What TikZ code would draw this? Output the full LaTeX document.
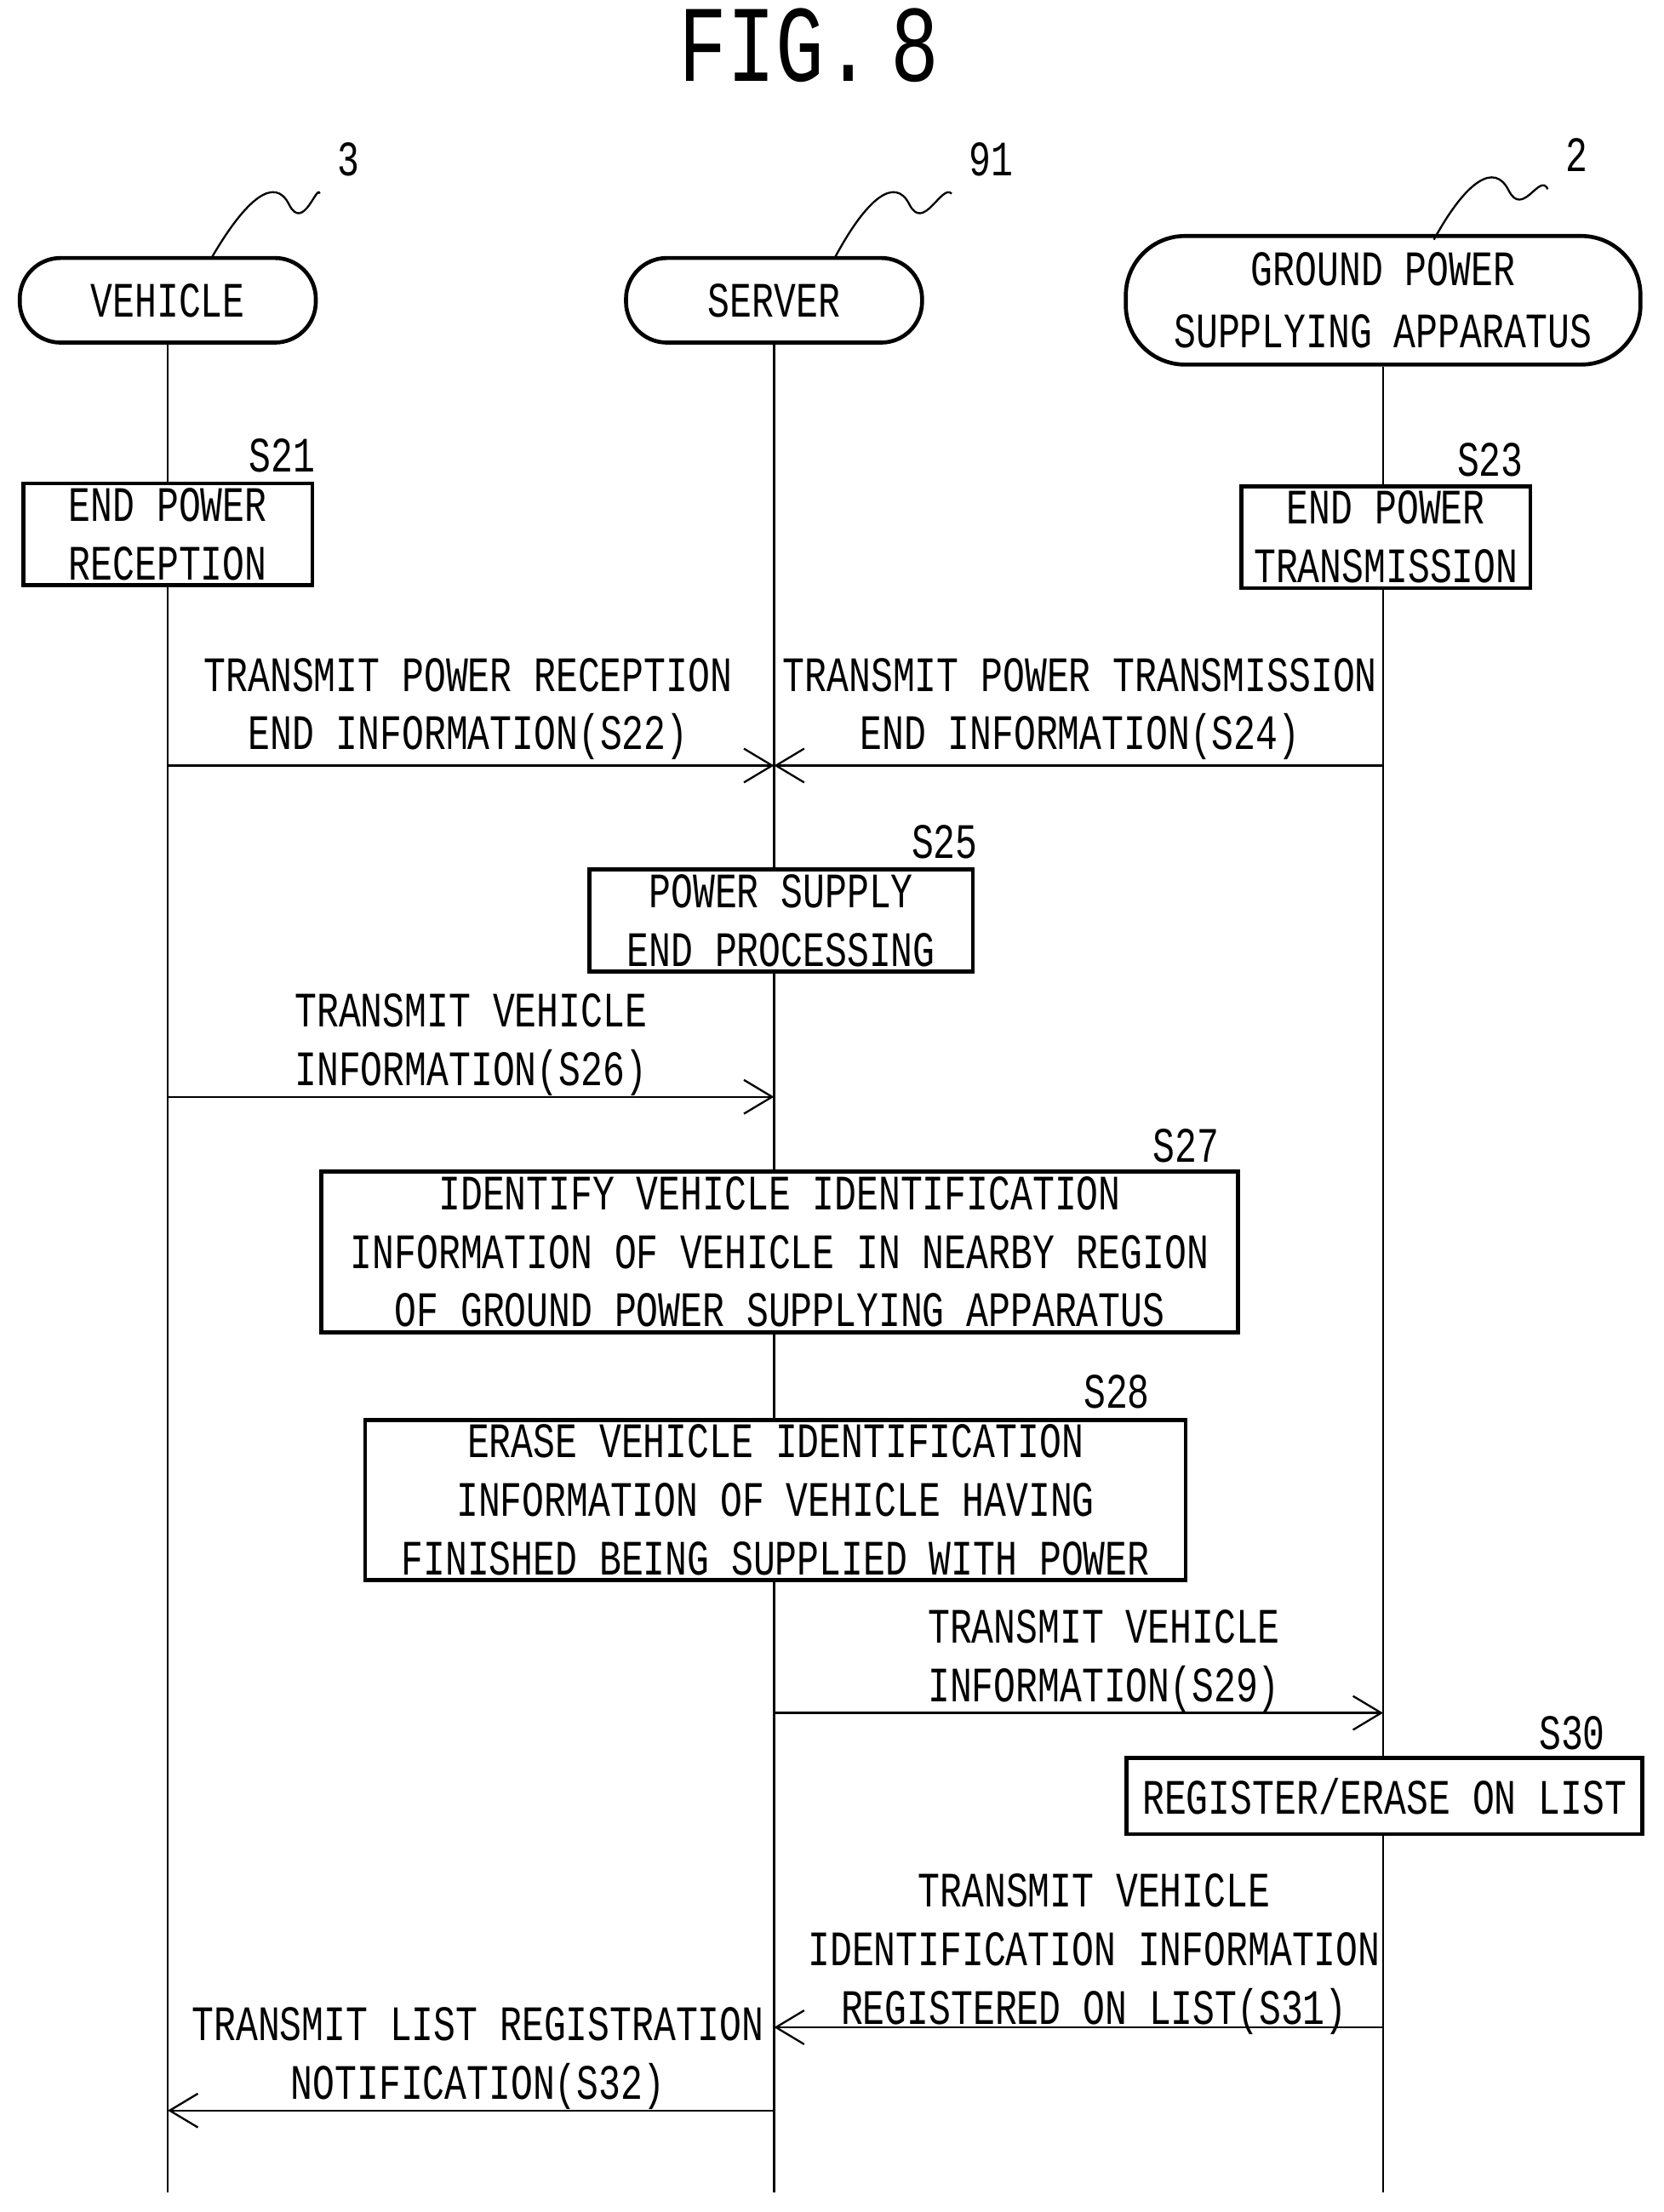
\documentclass[tikz,border=0pt]{standalone}
\usepackage{fontspec}
\setmainfont{Liberation Mono}[FakeStretch=0.74]
\usetikzlibrary{arrows.meta,positioning}
\tikzset{
  actor/.style={draw,thick,rounded corners=2.9mm,minimum height=6mm,align=center,fill=white,font=\fontsize{10}{12.5}\selectfont},
  stepbox/.style={draw,thick,fill=white,align=center,inner sep=1pt,font=\fontsize{10}{11.8}\selectfont},
  lbl/.style={align=center,font=\fontsize{10}{11.8}\selectfont},
  msg/.style={thin,-{Straight Barb[length=2mm,width=2.4mm]}},
}
\begin{document}
\begin{tikzpicture}[x=0.1mm,y=-0.1mm]
\useasboundingbox (0,0) rectangle (1180,1569);
\node[font=\fontsize{22}{24}\selectfont] (title) at (574,32) {FIG.\,8};
% actors
\node[actor,minimum width=21mm] (veh) at (119,213) {VEHICLE};
\node[actor,minimum width=21mm] (srv) at (549,213) {SERVER};
\node[actor,minimum width=36.5mm,minimum height=8.5mm,rounded corners=4.2mm] (gnd) at (981,213) {GROUND POWER\\SUPPLYING APPARATUS};
\node[lbl] (r3) at (247,113) {3};
\node[lbl] (r91) at (703,113) {91};
\node[lbl] (r2) at (1118,110) {2};
\draw (150,183) .. controls (175,140) and (195,125) .. (205,145) .. controls (215,165) and (225,130) .. (r3.south west);
\draw (592,183) .. controls (615,140) and (635,125) .. (645,145) .. controls (655,165) and (668,130) .. (r91.south west);
\draw (1017,170) .. controls (1040,128) and (1060,115) .. (1070,135) .. controls (1080,155) and (1092,122) .. (r2.south west);
% lifelines
\coordinate (vEnd) at (119,1555);
\coordinate (sEnd) at (549,1555);
\coordinate (gEnd) at (981,1555);
\draw (veh) -- (vEnd);
\draw (srv) -- (sEnd);
\draw (gnd) -- (gEnd);
% steps
\node[stepbox,minimum width=20.5mm,minimum height=7mm] (s21) at (119,379) {END POWER\\RECEPTION};
\node[lbl] at (200,323) {S21};
\node[stepbox,minimum width=20.5mm,minimum height=7.2mm] (s23) at (983,381) {END POWER\\TRANSMISSION};
\node[lbl] at (1057,326) {S23};
\node[stepbox,minimum width=27.2mm,minimum height=7.2mm] (s25) at (554,653) {POWER SUPPLY\\END PROCESSING};
\node[lbl] at (670,597) {S25};
\node[stepbox,minimum width=65mm,minimum height=10.2mm] (s27) at (553,888) {IDENTIFY VEHICLE IDENTIFICATION\\INFORMATION OF VEHICLE IN NEARBY REGION\\OF GROUND POWER SUPPLYING APPARATUS};
\node[lbl] at (841,813) {S27};
\node[stepbox,minimum width=58.2mm,minimum height=11mm] (s28) at (550,1064) {ERASE VEHICLE IDENTIFICATION\\INFORMATION OF VEHICLE HAVING\\FINISHED BEING SUPPLIED WITH POWER};
\node[lbl] at (792,987) {S28};
\node[stepbox,minimum width=36.6mm,minimum height=5.4mm] (s30) at (982,1274) {REGISTER/ERASE ON LIST};
\node[lbl] at (1115,1229) {S30};
% messages
\coordinate (v22) at (119,543); \coordinate (s22) at (549,543); \coordinate (g24) at (981,543);
\draw[msg] (v22) -- (s22);
\draw[msg] (g24) -- (s22);
\node[lbl] at (332,503) {TRANSMIT POWER RECEPTION\\END INFORMATION(S22)};
\node[lbl] at (766,503) {TRANSMIT POWER TRANSMISSION\\END INFORMATION(S24)};
\coordinate (v26) at (119,778); \coordinate (s26) at (549,778);
\draw[msg] (v26) -- (s26);
\node[lbl] at (334,741) {TRANSMIT VEHICLE\\INFORMATION(S26)};
\coordinate (s29) at (549,1215); \coordinate (g29) at (981,1215);
\draw[msg] (s29) -- (g29);
\node[lbl] at (783,1178) {TRANSMIT VEHICLE\\INFORMATION(S29)};
\coordinate (g31) at (981,1438); \coordinate (s31) at (549,1438);
\draw[msg] (g31) -- (s31);
\node[lbl] at (776,1386) {TRANSMIT VEHICLE\\IDENTIFICATION INFORMATION\\REGISTERED ON LIST(S31)};
\coordinate (s32) at (549,1497); \coordinate (v32) at (119,1497);
\draw[msg] (s32) -- (v32);
\node[lbl] at (339,1460) {TRANSMIT LIST REGISTRATION\\NOTIFICATION(S32)};
\end{tikzpicture}
\end{document}
